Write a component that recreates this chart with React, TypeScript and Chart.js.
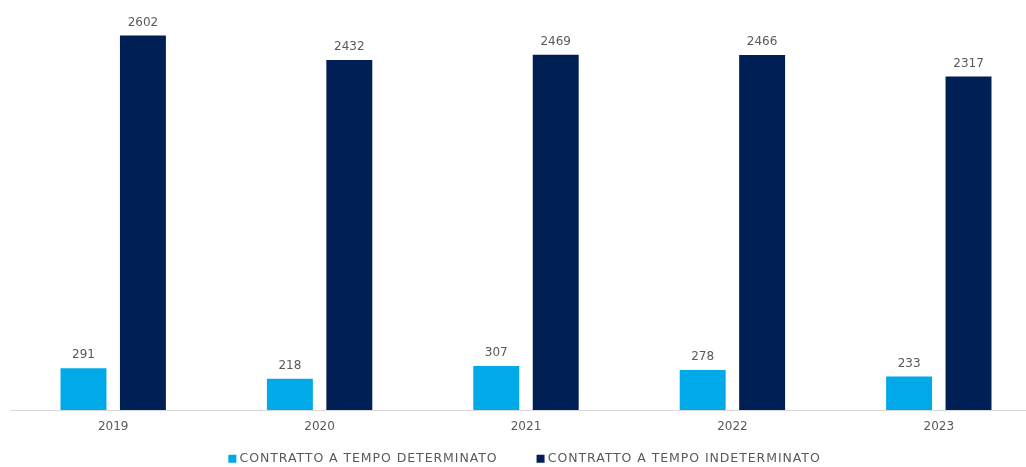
import React, { useEffect, useRef } from "react";
import { Chart, registerables } from "chart.js";

Chart.register(...registerables);

const categories = ["2019", "2020", "2021", "2022", "2023"];
const determinato = [291, 218, 307, 278, 233];
const indeterminato = [2602, 2432, 2469, 2466, 2317];
const seriesNames = ["CONTRATTO A TEMPO DETERMINATO", "CONTRATTO A TEMPO INDETERMINATO"];

const FONT = "'DejaVu Sans', 'Noto Sans', sans-serif";
const TEXT = "#595959";
const LEGEND_SPACING = "0.93px";
const ITEM_GAP = 42;
const ROW_PAD = 14;

const valueLabels = {
  id: "valueLabels",
  afterDatasetsDraw(chart: any) {
    const ctx = chart.ctx;
    ctx.save();
    ctx.font = `12px ${FONT}`;
    ctx.fillStyle = TEXT;
    ctx.textAlign = "center";
    ctx.textBaseline = "bottom";
    chart.data.datasets.forEach((ds: any, i: number) => {
      const meta = chart.getDatasetMeta(i);
      meta.data.forEach((bar: any, j: number) => {
        ctx.fillText(String(ds.data[j]), bar.x, bar.y - 7);
      });
    });
    ctx.restore();
  },
};

// Legend tweaks: letter spacing, and a wide gap between items without a tall legend box.
const legendTweaks = {
  id: "legendTweaks",
  beforeLayout(chart: any) {
    const lg = chart.legend;
    if (!lg || lg._patched) return;
    lg._patched = true;
    const extra = ITEM_GAP - ROW_PAD;
    const origFit = lg.fit;
    const origDraw = lg.draw;
    lg.fit = function (this: any, ...args: any[]) {
      const ctx = chart.ctx as any;
      const prev = ctx.letterSpacing;
      ctx.letterSpacing = LEGEND_SPACING;
      const r = origFit.apply(this, args);
      ctx.letterSpacing = prev || "0px";
      this.height = Math.max(0, this.height - extra);
      return r;
    };
    lg.draw = function (this: any, ...args: any[]) {
      const ctx = chart.ctx as any;
      const prev = ctx.letterSpacing;
      ctx.letterSpacing = LEGEND_SPACING;
      const t = this.top;
      this.top = t - extra;
      const r = origDraw.apply(this, args);
      this.top = t;
      ctx.letterSpacing = prev || "0px";
      return r;
    };
  },
};

export default function App() {
  const ref = useRef<HTMLCanvasElement>(null);
  useEffect(() => {
    if (!ref.current) return;
    const chart = new Chart(ref.current, {
      type: "bar",
      data: {
        labels: categories,
        datasets: [
          { label: seriesNames[0], data: determinato, backgroundColor: "#00A9E8", borderWidth: 0 },
          { label: seriesNames[1], data: indeterminato, backgroundColor: "#001F54", borderWidth: 0 },
        ],
      },
      options: {
        animation: false,
        responsive: false,
        layout: { padding: { top: 7, left: 10, right: 14, bottom: 0 } },
        datasets: { bar: { categoryPercentage: 0.576, barPercentage: 0.773 } },
        plugins: {
          legend: {
            position: "bottom",
            labels: {
              usePointStyle: true,
              pointStyle: "rect",
              boxWidth: 2,
              boxHeight: 8,
              padding: ITEM_GAP,
              color: TEXT,
              font: { size: 12.5, family: FONT },
            },
          },
          tooltip: { enabled: false },
        },
        scales: {
          x: {
            grid: { display: false },
            border: { display: true, color: "#d9d9d9", width: 1 },
            ticks: { color: TEXT, font: { size: 12, family: FONT }, padding: 2 },
            afterFit: (scale: any) => {
              scale.height += 2;
            },
          },
          y: { display: false, min: 0, max: 2800 },
        },
      },
      plugins: [valueLabels, legendTweaks],
    });
    return () => chart.destroy();
  }, []);
  return (
    <div style={{ position: "fixed", left: 0, top: 0, width: 1026, height: 467, overflow: "hidden", background: "#fff" }}>
      <canvas ref={ref} width={1056} height={475} style={{ display: "block" }} />
    </div>
  );
}
